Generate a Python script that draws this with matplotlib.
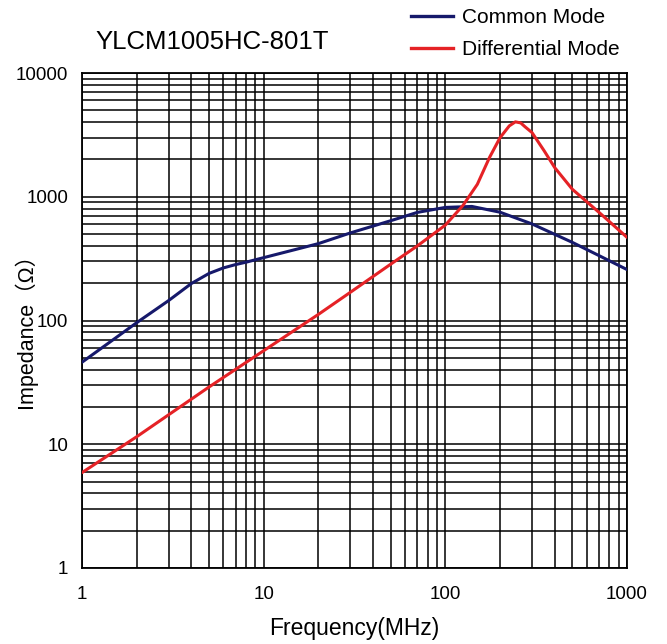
import matplotlib
matplotlib.use("Agg")
import matplotlib.pyplot as plt
from matplotlib.ticker import FixedLocator, FixedFormatter, NullFormatter
from matplotlib.lines import Line2D

# ---- data ----
cm_freq = [1, 2, 3, 4, 5, 6, 7, 8, 10, 20, 30, 50, 70, 100, 140, 200, 300, 500, 700, 1000]
cm_imp = [46, 96, 145, 199, 240, 266, 283, 296, 322, 418, 510, 640, 747, 820, 835, 750, 603, 428, 335, 258]

dm_freq = [1, 2, 5, 10, 20, 30, 50, 70, 100, 125, 150, 175, 200, 225, 243, 260, 275, 300, 350, 400, 500, 700, 1000]
dm_imp = [5.9, 11.5, 29, 57, 112, 169, 285, 400, 590, 850, 1260, 2075, 3000, 3740, 4030, 3950, 3670, 3300, 2350, 1720, 1150, 750, 470]

x_ticks = [1, 10, 100, 1000]
x_tick_labels = ["1", "10", "100", "1000"]
y_ticks = [1, 10, 100, 1000, 10000]
y_tick_labels = ["1", "10", "100", "1000", "10000"]

title_text = "YLCM1005HC-801T"
legend_labels = ["Common Mode", "Differential Mode"]
x_label = "Frequency(MHz)"
y_label = "Impedance（Ω）"

cm_color = "#16196b"
dm_color = "#e52226"
fam = ["Liberation Sans", "Noto Sans CJK SC", "DejaVu Sans"]
plt.rcParams["font.family"] = fam

fig = plt.figure(figsize=(6.67, 6.44), dpi=100)
ax = fig.add_axes([82 / 667, 1 - 568 / 644, (627 - 82) / 667, (568 - 73) / 644])
ax.set_xscale("log")
ax.set_yscale("log")
ax.set_xlim(1, 1000)
ax.set_ylim(1, 10000)

minor_x = [m * 10 ** d for d in range(0, 3) for m in range(2, 10)]
minor_y = [m * 10 ** d for d in range(0, 4) for m in range(2, 10)]
ax.xaxis.set_major_locator(FixedLocator(x_ticks))
ax.xaxis.set_major_formatter(FixedFormatter(x_tick_labels))
ax.yaxis.set_major_locator(FixedLocator(y_ticks))
ax.yaxis.set_major_formatter(FixedFormatter(y_tick_labels))
ax.xaxis.set_minor_locator(FixedLocator(minor_x))
ax.yaxis.set_minor_locator(FixedLocator(minor_y))
ax.xaxis.set_minor_formatter(NullFormatter())
ax.yaxis.set_minor_formatter(NullFormatter())
ax.grid(True, which="both", color="black", linewidth=1.1)
ax.tick_params(which="both", length=0)
ax.tick_params(axis="x", pad=13, labelsize=13.5)
ax.tick_params(axis="y", pad=10, labelsize=13.5)
for s in ax.spines.values():
    s.set_color("black")
    s.set_linewidth(1.3)

ax.plot(cm_freq, cm_imp, color=cm_color, linewidth=2.2, solid_capstyle="round", zorder=3)
ax.plot(dm_freq, dm_imp, color=dm_color, linewidth=2.2, solid_capstyle="round", zorder=3)

ax.set_xlabel(x_label, fontsize=16.5, labelpad=10)
fig.text(25 / 667, 1 - 325 / 644, y_label, fontsize=15.5, rotation=90,
         ha="center", va="center")

fig.text(95 / 667, 1 - 42 / 644, title_text, fontsize=18.5, va="center", ha="left")

handles = [Line2D([0], [0], color=cm_color, linewidth=2.4),
           Line2D([0], [0], color=dm_color, linewidth=2.4)]
fig.legend(handles, legend_labels, loc="upper left", bbox_to_anchor=(403 / 667, 1.0),
           frameon=False, fontsize=15, handlelength=2.0, handletextpad=0.45,
           labelspacing=0.6, borderaxespad=0)

fig.savefig("out.png", dpi=100)
